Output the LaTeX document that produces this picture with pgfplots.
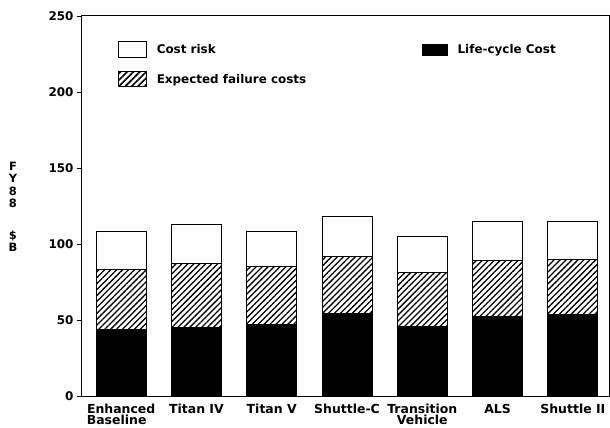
\documentclass[border=0pt]{standalone}
\usepackage{fontspec}
\setmainfont{DejaVu Sans}
\usepackage{pgfplots}
\pgfplotsset{compat=1.18}
\usetikzlibrary{patterns.meta}

\begin{document}
\begin{tikzpicture}
\useasboundingbox (-82bp,-32bp) rectangle (528bp,396bp);
\begin{axis}[
    at={(0,0)}, anchor=south west,
    scale only axis,
    width=527bp, height=380bp,
    ybar stacked,
    bar width=50bp,
    xmin=-0.52, xmax=6.48,
    ymin=0, ymax=250,
    ytick={0,50,...,250},
    xtick=data,
    xticklabels={Enhanced\\Baseline\hspace*{9bp}, Titan IV, Titan V, Shuttle-C, Transition\\Vehicle, ALS, Shuttle II},
    x tick style={draw=none},
    xticklabel style={font=\bfseries\fontsize{12.5}{11}\selectfont, align=center, anchor=north, yshift=0bp},
    y tick style={black, line width=0.8bp},
    tick align=outside,
    ytick pos=left,
    major tick length=5bp,
    yticklabel style={font=\bfseries\fontsize{12}{12}\selectfont},
    /pgf/number format/assume math mode=true,
    axis line style={line width=1bp},
    ylabel={F\\Y\\8\\8\\[19bp]\$\\B},
    y label style={rotate=-90, at={(rel axis cs:-0.131,0.498)}, anchor=center,
        align=center, font=\bfseries\fontsize{11.5}{12.5}\selectfont},
    legend columns=2,
    legend cell align=left,
    legend style={at={(rel axis cs:0.062,0.94)}, anchor=north west, draw=none, fill=none,
        font=\bfseries\fontsize{12}{12}\selectfont,
        row sep=13bp,
        /tikz/every even column/.append style={column sep=114bp}},
]
\addlegendimage{legend image code/.code={\draw[black, line width=1bp, fill=white] (0bp,-8bp) rectangle (28bp,8bp); \path[draw=none, fill=none] (36bp,0bp) circle (0.1bp);}}
\addlegendentry{Cost risk}
\addlegendimage{legend image code/.code={\fill[black] (0bp,-5.5bp) rectangle (25bp,5.5bp); \path[draw=none, fill=none] (33bp,0bp) circle (0.1bp);}}
\addlegendentry{Life-cycle Cost}
\addlegendimage{legend image code/.code={\draw[black, line width=1bp, pattern={Lines[angle=45, distance=4.5bp, line width=1.6bp]}] (0bp,-7.5bp) rectangle (28bp,7.5bp); \path[draw=none, fill=none] (36bp,0bp) circle (0.1bp);}}
\addlegendentry{Expected failure costs}

% life-cycle cost
\addplot[draw=black, line width=1bp, fill=black] coordinates {
    (0,44) (1,45) (2,47) (3,54.5) (4,45.5) (5,52) (6,53.5)};
% expected failure costs
\addplot[draw=black, line width=1bp, pattern={Lines[angle=45, distance=4.2bp, line width=1.3bp]}] coordinates {
    (0,39.5) (1,42) (2,38) (3,37) (4,35.5) (5,37) (6,36)};
% cost risk
\addplot[draw=black, line width=1bp, fill=white] coordinates {
    (0,24.5) (1,26) (2,23.5) (3,26.5) (4,24) (5,25.5) (6,25)};
\end{axis}
\end{tikzpicture}
\end{document}
